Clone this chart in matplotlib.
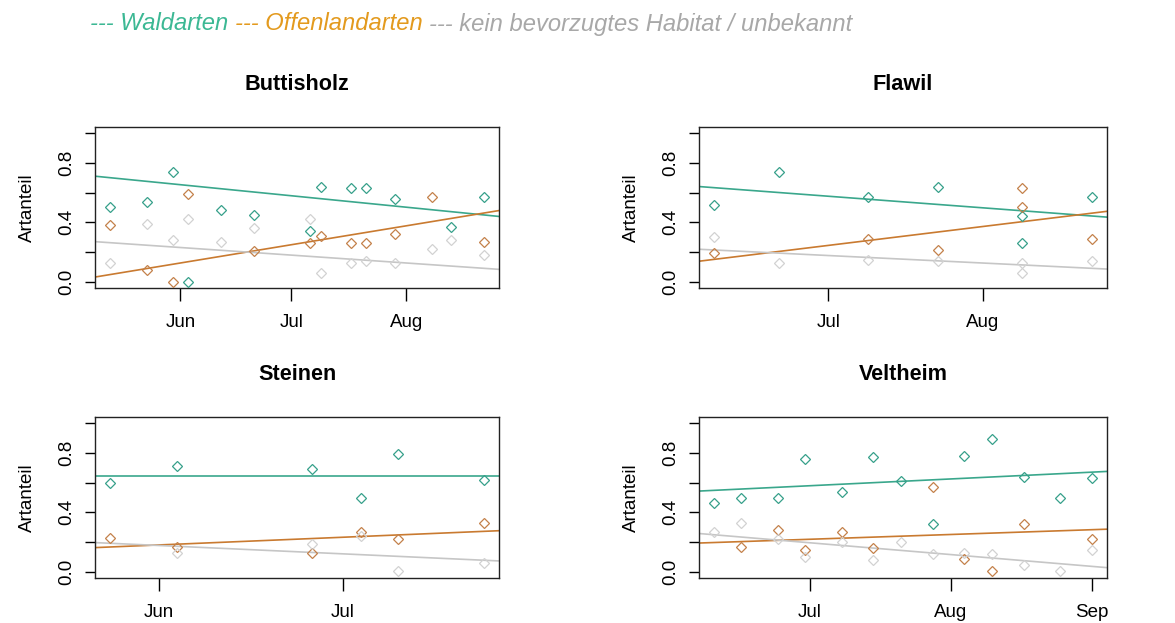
import numpy as np
import pandas as pd
import matplotlib
matplotlib.use("Agg")
import matplotlib.pyplot as plt
import matplotlib.dates as mdates

plt.rcParams.update({
    "font.family": ["Liberation Sans", "DejaVu Sans"],
    "axes.linewidth": 1.0,
    "axes.edgecolor": "#222222",
})

YEAR = "2021"
SITES = ["Buttisholz", "Flawil", "Steinen", "Veltheim"]

# sampling dates (MM-DD) and species share per habitat group
butt_dates = ["05-13", "05-23", "05-30", "06-03", "06-12", "06-21", "07-06",
              "07-09", "07-17", "07-21", "07-29", "08-08", "08-13", "08-22"]
butt_wald = [.50, .54, .74, .00, .48, .45, .34, .64, .63, .63, .56, None, .37, .57]
butt_offen = [.38, .08, .00, .59, None, .21, .26, .31, .26, .26, .32, .57, None, .27]
butt_other = [.13, .39, .28, .42, .27, .36, .42, .06, .13, .14, .13, .22, .28, .18]

flaw_dates = ["06-08", "06-21", "07-09", "07-23", "08-09", "08-09", "08-23"]
flaw_wald = [.52, .74, .57, .64, .44, .26, .57]
flaw_offen = [.195, None, .29, .215, .50, .63, .29]
flaw_other = [.30, .13, .15, .14, .06, .13, .14]

stei_dates = ["05-24", "06-04", "06-26", "07-04", "07-10", "07-24"]
stei_wald = [.60, .71, .69, .50, .79, .62]
stei_offen = [.23, .17, .13, .27, .22, .33]
stei_other = [None, .13, .19, .24, .01, .06]

velt_dates = ["06-10", "06-16", "06-24", "06-30", "07-08", "07-15", "07-21",
              "07-28", "08-04", "08-10", "08-17", "08-25", "09-01"]
velt_wald = [.46, .50, .50, .76, .54, .77, .61, .32, .78, .89, .64, .50, .63]
velt_offen = [None, .17, .28, .15, .27, .16, None, .57, .09, .01, .32, None, .22]
velt_other = [.27, .33, .22, .10, .20, .08, .20, .12, .13, .12, .05, .01, .15]

# linear trends: fitted value at first and last sampling date
fit_wald = {"Buttisholz": (0.70, 0.45), "Flawil": (0.633, 0.443),
            "Steinen": (0.643, 0.643), "Veltheim": (0.548, 0.670)}
fit_offen = {"Buttisholz": (0.05, 0.463), "Flawil": (0.152, 0.462),
             "Steinen": (0.168, 0.273), "Veltheim": (0.198, 0.284)}
fit_other = {"Buttisholz": (0.264, 0.092), "Flawil": (0.215, 0.092),
             "Steinen": (0.193, 0.079), "Veltheim": (0.250, 0.038)}

data = {
    "Buttisholz": (butt_dates, butt_wald, butt_offen, butt_other),
    "Flawil": (flaw_dates, flaw_wald, flaw_offen, flaw_other),
    "Steinen": (stei_dates, stei_wald, stei_offen, stei_other),
    "Veltheim": (velt_dates, velt_wald, velt_offen, velt_other),
}

PT = {"wald": "#36a08a", "offen": "#c4814a", "other": "#d2d2d2"}
LN = {"wald": "#3aa78c", "offen": "#c97a30", "other": "#c6c6c6"}
TXT = {"wald": "#3cb894", "offen": "#e39a1e", "other": "#a8a8a8"}
LEGEND = [("--- Waldarten ", "wald"), ("--- Offenlandarten ", "offen"),
          ("--- kein bevorzugtes Habitat / unbekannt", "other")]

W, H = 1175, 623
fig = plt.figure(figsize=(W / 100, H / 100), dpi=100)
boxes = [(95, 127, 404, 161), (699, 127, 408, 161),
         (95, 417, 404, 161), (699, 417, 408, 161)]

for site, (l, t, w, h) in zip(SITES, boxes):
    ax = fig.add_axes([l / W, 1 - (t + h) / H, w / W, h / H])
    dates, wald, offen, other = data[site]
    x = mdates.date2num(pd.to_datetime([f"{YEAR}-{d}" for d in dates]))
    for key, vals in (("wald", wald), ("offen", offen), ("other", other)):
        xv = [xi for xi, v in zip(x, vals) if v is not None]
        yv = [v for v in vals if v is not None]
        ax.plot(xv, yv, linestyle="none", marker="D", markersize=5.6,
                markerfacecolor="none", markeredgecolor=PT[key],
                markeredgewidth=0.9, zorder=3)
    for key, fit in (("wald", fit_wald), ("offen", fit_offen), ("other", fit_other)):
        ax.axline((x[0], fit[site][0]), (x[-1], fit[site][1]),
                  color=LN[key], linewidth=1.2, zorder=2)
    span = x.max() - x.min()
    ax.set_xlim(x.min() - 0.04 * span, x.max() + 0.04 * span)
    ax.set_ylim(-0.04, 1.04)
    ax.xaxis.set_major_locator(mdates.MonthLocator())
    ax.xaxis.set_major_formatter(mdates.DateFormatter("%b"))
    ax.set_yticks([0, 0.2, 0.4, 0.6, 0.8, 1.0])
    ax.set_yticklabels(["0.0", "", "0.4", "", "0.8", ""], rotation=90,
                       va="center")
    ax.tick_params(axis="x", length=9, width=1.0, pad=10, labelsize=13.5)
    ax.tick_params(axis="y", length=7.5, width=1.0, pad=7, labelsize=13.5)
    ax.set_ylabel("Artanteil", fontsize=13.5, labelpad=16)
    ax.set_title(site, fontsize=15.6, fontweight="bold", pad=27)

# colour-coded key line across the top
xpos = 90
renderer = fig.canvas.get_renderer()
for s, key in LEGEND:
    txt = fig.text(xpos / W, 1 - 24 / H, s, color=TXT[key], fontsize=17.1,
                   style="italic", va="center", ha="left")
    xpos += txt.get_window_extent(renderer).width

fig.savefig("out.png", dpi=100)
